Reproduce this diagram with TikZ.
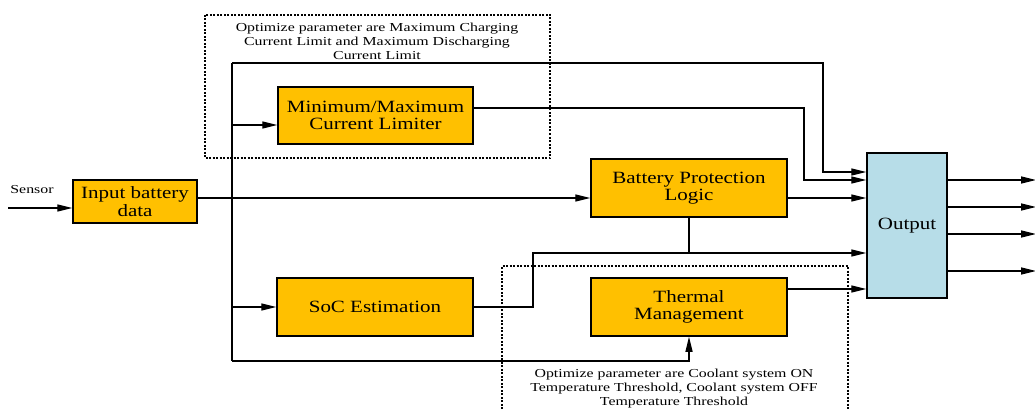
\documentclass[tikz,border=0pt]{standalone}
\usepackage{fontspec}
\setmainfont[FakeStretch=1.3]{Liberation Serif}
\newfontfamily\boxfont[FakeStretch=1.22]{Liberation Serif}
\usetikzlibrary{arrows.meta}

\definecolor{boxorange}{HTML}{FFC000}
\definecolor{outblue}{HTML}{B7DDE8}

\begin{document}
\begin{tikzpicture}[x=1pt,y=-1pt,line width=1.3pt,
    >={Triangle[length=15pt,width=7pt]}]

      \useasboundingbox (0,0) rectangle (1035,409);

      % dashed frames round the tuned blocks
      \begin{scope}[line width=1.1pt,dash pattern=on 2pt off 1.5pt]
        \draw (205,15) rectangle (550,158);
        \draw (502,409) -- (502,266) -- (848,266) -- (848,409);
      \end{scope}

      \begin{scope}[every node/.style={draw,line width=1.5pt,fill=boxorange,
          align=center,inner sep=2pt,font=\boxfont\fontsize{17.2}{17.5}\selectfont}]
        \node[minimum width=124pt,minimum height=43pt] (inp) at (135,201.5) {Input battery\\data};
        \node[minimum width=195pt,minimum height=57pt] (lim) at (375.5,115.5) {Minimum/Maximum\\Current Limiter};
        \node[minimum width=196pt,minimum height=58pt] (bpl) at (689,188) {Battery Protection\\Logic};
        \node[minimum width=196pt,minimum height=58pt] (soc) at (375,307) {SoC Estimation};
        \node[minimum width=196pt,minimum height=58pt] (thm) at (689,307) {Thermal\\Management};
        \node[fill=outblue,minimum width=80pt,minimum height=145pt] (out) at (907,225.5) {Output};
      \end{scope}

      \begin{scope}[every node/.style={align=center,font=\rmfamily\fontsize{12.2}{14}\selectfont}]
        \node (sensor) at (32,190) {Sensor};
        \node (limnote) at (377,41) {Optimize parameter are Maximum Charging\\Current Limit and Maximum Discharging\\Current Limit};
        \node (thmnote) at (674,389) {Optimize parameter are Coolant system ON\\Temperature Threshold, Coolant system OFF\\Temperature Threshold};
      \end{scope}

      \coordinate (sens) at (8,208);
      \coordinate (tl) at (232,63);
      \coordinate (tr) at (823,63);
      \coordinate (bl) at (232,361);

      % main bus
      \draw (tl) -- (bl);
      \draw[->] (sens) -- (sens -| inp.west);
      \draw[->] (inp.east |- 0,198) -- (bpl.west |- 0,198);
      \draw[->] (232,125) -- (lim.west |- 0,125);
      \draw[->] (232,307) -- (soc.west);
      \draw[->] (bl) -| (thm.south);

      % into the output block
      \draw[->] (tl) -- (tr) |- (out.west |- 0,172);
      \draw[->] (lim.east |- 0,108) -| (804,180) -- (out.west |- 0,180);
      \draw[->] (bpl.east |- 0,198) -- (out.west |- 0,198);
      \draw[->] (soc.east) -- (533,307) |- (out.west |- 0,253);
      \draw (bpl.south) -- (bpl.south |- 0,253);
      \draw[->] (thm.east |- 0,289) -- (out.west |- 0,289);

      % outputs
      \foreach \y in {180,207,234,271}
        \draw[->] (out.east |- 0,\y) -- (1036,\y);

    \end{tikzpicture}
\end{document}
